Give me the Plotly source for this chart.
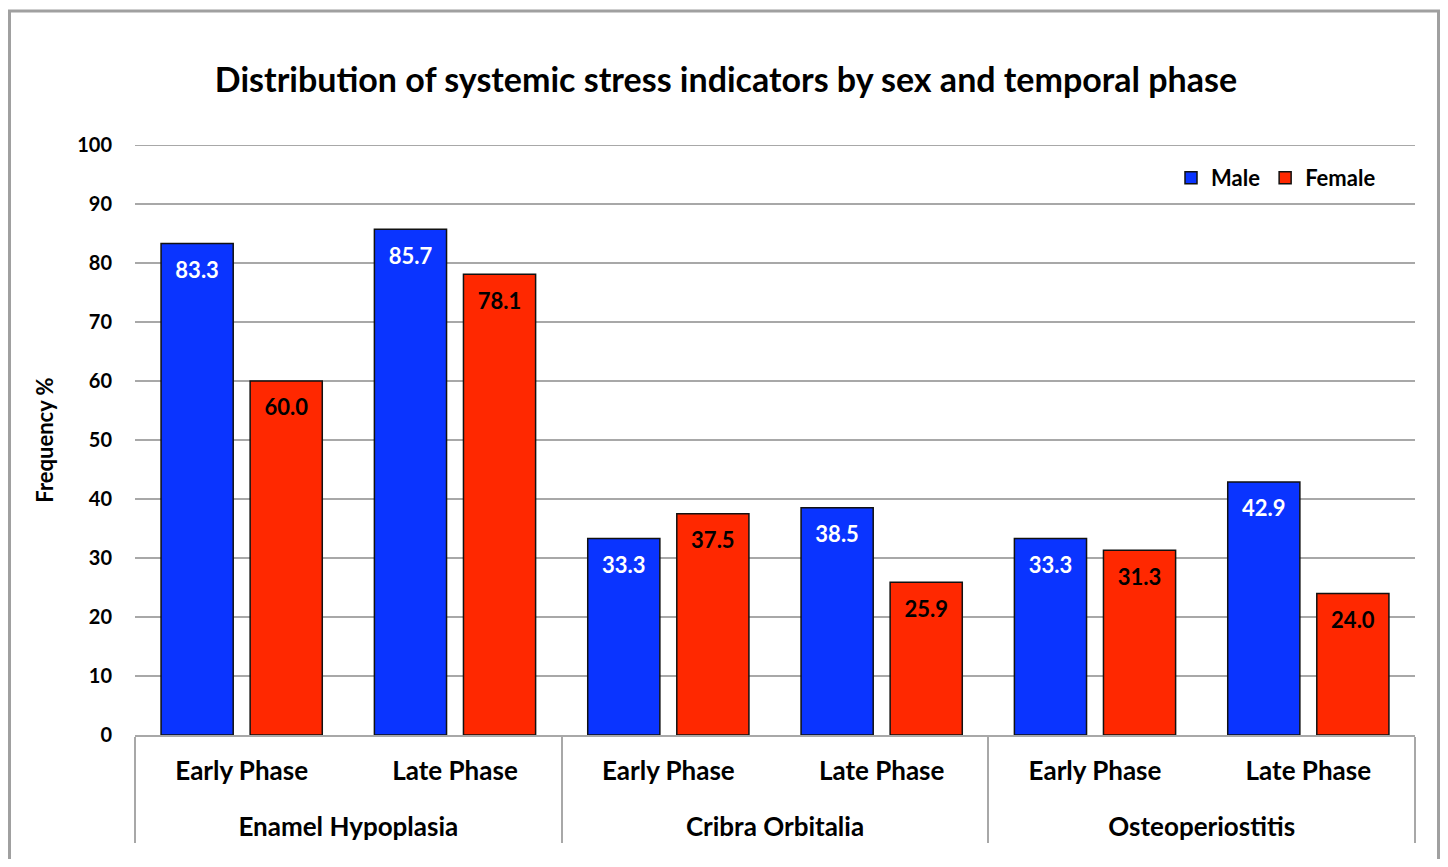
import plotly.graph_objects as go

indicators = ["Enamel Hypoplasia", "Cribra Orbitalia", "Osteoperiostitis"]
phases = ["Early Phase", "Late Phase"]
male = [83.3, 85.7, 33.3, 38.5, 33.3, 42.9]
female = [60.0, 78.1, 37.5, 25.9, 31.3, 24.0]
y_ticks = list(range(0, 101, 10))

x_groups = [ind for ind in indicators for _ in phases]
# phase labels get an empty second line so the indicator row sits lower, as in the reference
x_phases = [ph + "<br>\u00a0" for _ in indicators for ph in phases]

FONT = "Lato"
BLUE = "#0A34FF"
RED = "#FF2800"
GRID = "#A8A8A8"

W, H = 1432, 851
ML, MR, MT, MB = 127, 25, 137, 124
PW, PH = W - ML - MR, H - MT - MB

fig = go.Figure()
fig.add_trace(go.Bar(
    name="Male", x=[x_groups, x_phases], y=male, offsetgroup="m",
    marker=dict(color=BLUE, line=dict(color="#111111", width=1.5)),
    hoverinfo="skip",
))
fig.add_trace(go.Bar(
    name="Female", x=[x_groups, x_phases], y=female, offsetgroup="f",
    marker=dict(color=RED, line=dict(color="#111111", width=1.5)),
    hoverinfo="skip",
))
# value labels, positioned with the bars via grouped scatter
for vals, og, col in [(male, "m", "white"), (female, "f", "black")]:
    fig.add_trace(go.Scatter(
        x=[x_groups, x_phases], y=vals, offsetgroup=og, orientation="v",
        mode="markers+text", text=[f"{v:.1f}" for v in vals],
        textposition="bottom center",
        textfont=dict(family=FONT, size=22, color=col, weight="bold"),
        marker=dict(size=27, opacity=0),
        showlegend=False, hoverinfo="skip",
    ))

fig.update_layout(
    width=W, height=H,
    margin=dict(l=ML, r=MR, t=MT, b=MB),
    paper_bgcolor="white", plot_bgcolor="white",
    barmode="group", bargap=0.165, bargroupgap=0.19,
    scattermode="group", scattergap=0.165,
    font=dict(family=FONT, size=20, color="black", weight="bold"),
    title=dict(
        text="Distribution of systemic stress indicators by sex and temporal phase",
        x=(726 - 8) / W, xanchor="center", xref="container", y=1 - 72 / H, yanchor="middle", yref="container",
        font=dict(family=FONT, size=34, color="black", weight="bold"),
    ),
    legend=dict(
        orientation="h", x=(1163 - ML) / PW, xanchor="left", y=(727 - 170) / PH, yanchor="middle",
        font=dict(family=FONT, size=22, color="black", weight="bold"),
        bgcolor="rgba(0,0,0,0)", itemwidth=30, traceorder="normal",
    ),
    showlegend=True,
)
fig.update_yaxes(
    range=[0, 100], tickvals=y_ticks, showgrid=True, gridcolor=GRID, gridwidth=2,
    zeroline=False, showline=False, ticks="", ticklabelstandoff=22,
    tickfont=dict(family=FONT, size=20, color="black", weight="bold"),
    title=dict(text="Frequency %", standoff=17, font=dict(family=FONT, size=22, color="black", weight="bold")),
    automargin=False, fixedrange=True,
)
fig.update_xaxes(
    type="multicategory", showline=True, linecolor=GRID, linewidth=2,
    showgrid=False, ticks="", showdividers=True, dividercolor=GRID, dividerwidth=2,
    ticklabelstandoff=12,
    tickfont=dict(family=FONT, size=26, color="black", weight="bold"),
    automargin=False, fixedrange=True,
)
# top gridline at 100 (plotly clips gridlines lying on the plot edge)
fig.add_shape(
    type="line", xref="paper", yref="y", x0=0, x1=1, y0=y_ticks[-1], y1=y_ticks[-1],
    line=dict(color=GRID, width=2), layer="below",
)
# outer frame
fig.add_shape(
    type="rect", xref="paper", yref="paper",
    x0=(1.5 - ML) / PW, x1=(W - 1.5 - ML) / PW,
    y0=-(MB + 20) / PH, y1=(PH + MT - 3) / PH,
    line=dict(color="#A0A0A0", width=3), fillcolor="rgba(0,0,0,0)", layer="below",
)

fig.write_html("out.html")
